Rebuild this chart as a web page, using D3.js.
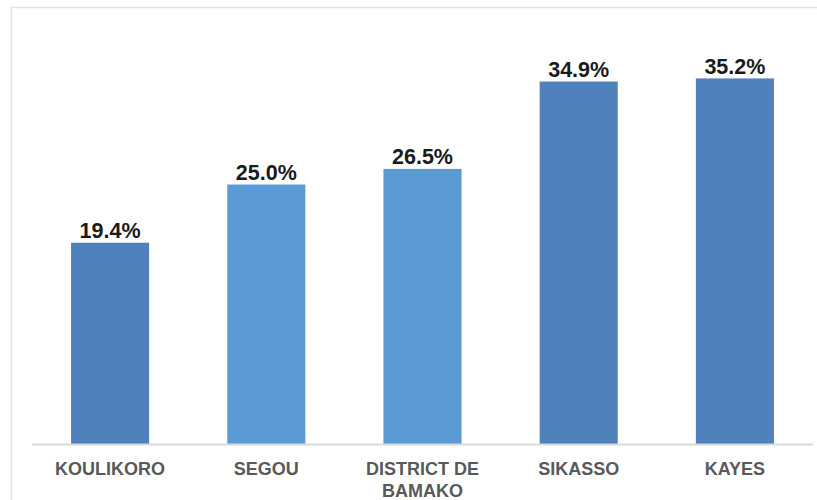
<!DOCTYPE html>
<html><head><meta charset="utf-8">
<script src="https://cdn.jsdelivr.net/npm/d3@7"></script>
<style>
html,body{margin:0;padding:0;background:#fff;}
svg{display:block;}
</style></head>
<body>
<svg id="chart" width="817" height="500"></svg>
<script>
const categories = ["KOULIKORO", "SEGOU", "DISTRICT DE BAMAKO", "SIKASSO", "KAYES"];
const values = [19.4, 25.0, 26.5, 34.9, 35.2];
const barColors = ["#4f81bd", "#5b9bd5", "#5b9bd5", "#4f81bd", "#4f81bd"];
const labelLines = [["KOULIKORO"], ["SEGOU"], ["DISTRICT DE", "BAMAKO"], ["SIKASSO"], ["KAYES"]];

const svg = d3.select("#chart");
// frame
svg.append("rect").attr("x", 11.5).attr("y", 7.5).attr("width", 820).attr("height", 520)
  .attr("fill", "#fff").attr("stroke", "#e4e4e4").attr("stroke-width", 1.5);

const x = d3.scaleBand().domain(categories).range([32, 813]).paddingInner(0.5).paddingOuter(0.25);
const y = d3.scaleLinear().domain([0, 40]).range([444.5, 28.5]);

svg.selectAll("rect.bar").data(values).join("rect").attr("class", "bar")
  .attr("x", (d, i) => x(categories[i]))
  .attr("width", x.bandwidth())
  .attr("y", d => y(d))
  .attr("height", d => y(0) - y(d))
  .attr("fill", (d, i) => barColors[i]);

// axis line
const axis = svg.append("g").attr("transform", `translate(0,${y(0)})`)
  .call(d3.axisBottom(x).tickSize(0).tickFormat(""));
axis.select(".domain").attr("stroke", "#d9d9d9").attr("stroke-width", 2)
  .attr("d", "M32,0H813");

// category labels
categories.forEach((c, i) => {
  const t = svg.append("text")
    .attr("x", x(c) + x.bandwidth() / 2)
    .attr("text-anchor", "middle")
    .attr("font-family", "'Liberation Sans Narrow', 'Arial Narrow', sans-serif")
    .attr("font-weight", "bold")
    .attr("font-size", 18)
    .attr("fill", "#595959");
  labelLines[i].forEach((ln, j) => {
    t.append("tspan").attr("x", x(c) + x.bandwidth() / 2).attr("y", 474.5 + j * 22.5).text(ln);
  });
});

// value labels
svg.selectAll("text.val").data(values).join("text").attr("class", "val")
  .attr("x", (d, i) => x(categories[i]) + x.bandwidth() / 2)
  .attr("y", d => y(d) - 4.5)
  .attr("text-anchor", "middle")
  .attr("font-family", "'Liberation Sans', Arial, sans-serif")
  .attr("font-weight", "bold")
  .attr("font-size", 21.5)
  .attr("fill", "#1a1a1a")
  .text(d => d.toFixed(1) + "%");
</script>
</body></html>
